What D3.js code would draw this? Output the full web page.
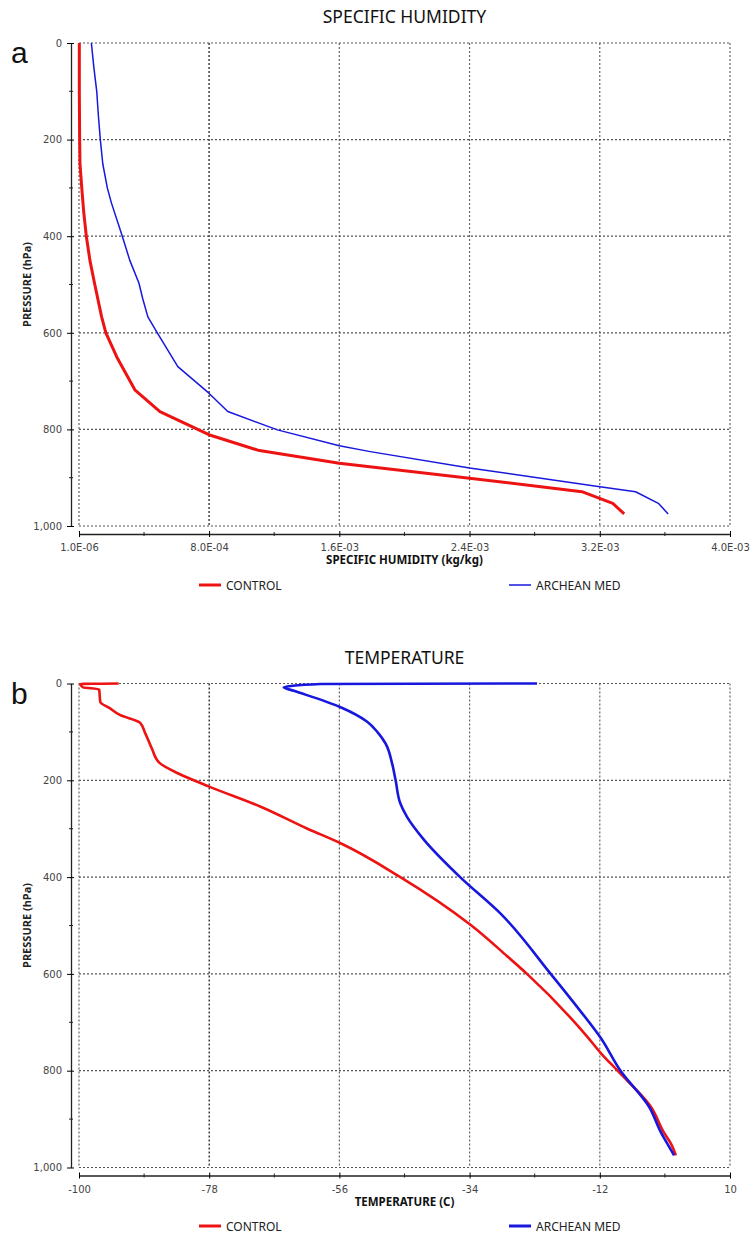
<!DOCTYPE html>
<html>
<head>
<meta charset="utf-8">
<script src="https://cdn.jsdelivr.net/npm/d3@7"></script>
<style>
  body { margin: 0; background: #fff; }
  svg { display: block; }
</style>
</head>
<body>
<div id="chart"></div>
<script>
// ---- data: panel a (specific humidity, kg/kg vs pressure hPa) ----
const humControlP = [0, 100, 200, 250, 300, 350, 400, 450, 500, 567, 600, 650, 718, 763, 811, 843, 870, 901, 929, 953, 975];
const humControlQ = [3e-6, 3e-6, 5e-6, 7e-6, 1.8e-5, 3.0e-5, 4.6e-5, 6.8e-5, 9.8e-5, 1.4e-4, 1.66e-4, 2.33e-4, 3.44e-4, 4.98e-4, 7.99e-4, 1.10e-3, 1.60e-3, 2.40e-3, 3.09e-3, 3.28e-3, 3.35e-3];

const humArcheanP = [0, 50, 100, 150, 200, 250, 300, 331, 400, 450, 497, 530, 567, 600, 670, 725, 763, 801, 834, 846, 880, 918, 929, 953, 975];
const humArcheanQ = [7.7e-5, 9.2e-5, 1.1e-4, 1.2e-4, 1.32e-4, 1.47e-4, 1.75e-4, 2.0e-4, 2.67e-4, 3.13e-4, 3.69e-4, 3.93e-4, 4.24e-4, 4.82e-4, 6.08e-4, 7.99e-4, 9.15e-4, 1.22e-3, 1.60e-3, 1.79e-3, 2.40e-3, 3.19e-3, 3.42e-3, 3.56e-3, 3.62e-3];

const humTicks = [1e-6, 8e-4, 1.6e-3, 2.4e-3, 3.2e-3, 4e-3];
const humTickLabels = ['1.0E-06', '8.0E-04', '1.6E-03', '2.4E-03', '3.2E-03', '4.0E-03'];

// ---- data: panel b (temperature, C vs pressure hPa) ----
const tempControlP = [0, 1, 5, 8, 12, 38, 51, 65, 81, 103, 134, 164, 186, 213, 254, 300, 330, 400, 499, 564, 600, 730, 764, 800, 874, 929, 950, 975];
const tempControlT = [-93.3, -99.8, -99.6, -99.3, -96.6, -96.4, -94.8, -93.1, -89.7, -88.8, -87.7, -86.4, -83.2, -78, -69.4, -61.4, -55.8, -45.7, -33.8, -27.6, -24.3, -14.1, -11.8, -9.0, -3.4, -1.1, 0.0, 0.85];

const tempArcheanP = [0, 1, 8, 15, 49, 79, 100, 124, 165, 200, 248, 275, 323, 400, 475, 600, 661, 733, 800, 874, 929, 957, 975];
const tempArcheanT = [-22.6, -59.2, -65.4, -63.7, -55.8, -51.3, -49.6, -48.2, -47.1, -46.5, -45.7, -44.6, -41.7, -35.6, -28.8, -20.3, -16.3, -11.8, -8.5, -3.7, -1.6, -0.3, 0.55];

const tempTicks = [-100, -78, -56, -34, -12, 10];
const tempTickLabels = ['-100', '-78', '-56', '-34', '-12', '10'];

const pressureTicks = [0, 200, 400, 600, 800, 1000];
const seriesNames = ['CONTROL', 'ARCHEAN MED'];

// ---- layout ----
const width = 751;
const height = 1236;
const left = 79;
const right = 730;
const red = '#ee1313';
const blue = '#1717dd';
const font = '"DejaVu Sans", sans-serif';

const svg = d3.select('#chart')
  .append('svg')
  .attr('width', width)
  .attr('height', height);

function drawPanel(cfg) {
  const g = svg.append('g');
  const x = d3.scaleLinear().domain(cfg.domain).range([left, right]);
  const y = d3.scaleLinear().domain([0, 1000]).range([cfg.top, cfg.bottom]);

  // dotted grid incl. the frame
  g.selectAll('.vgrid')
    .data(cfg.ticks)
    .enter().append('line')
    .attr('x1', d => x(d)).attr('x2', d => x(d))
    .attr('y1', cfg.top).attr('y2', cfg.bottom)
    .attr('stroke', (d, i) => i === 1 ? '#111' : '#666')
    .attr('stroke-width', 1.2)
    .attr('stroke-dasharray', '2,2');
  g.selectAll('.hgrid')
    .data(pressureTicks)
    .enter().append('line')
    .attr('x1', left).attr('x2', right)
    .attr('y1', d => y(d)).attr('y2', d => y(d))
    .attr('stroke', '#555')
    .attr('stroke-width', 1.2)
    .attr('stroke-dasharray', '2,2');

  // y axis, shifted left of the frame
  const yMinor = d3.range(100, 1000, 200);
  const yAxis = g.append('g')
    .attr('transform', `translate(${left - 8},0)`)
    .call(d3.axisLeft(y).tickValues(pressureTicks).tickSize(4).tickPadding(5).tickSizeOuter(0));
  yAxis.selectAll('.tick line').attr('x1', 3).attr('x2', -4);
  yAxis.selectAll('.tick text').attr('font-size', 10).attr('font-family', font).attr('fill', '#444');
  yAxis.select('.domain').attr('stroke', '#222').attr('stroke-width', 1.3);
  yAxis.selectAll('.minor')
    .data(yMinor)
    .enter().append('line')
    .attr('x1', -2).attr('x2', 2)
    .attr('y1', d => y(d)).attr('y2', d => y(d))
    .attr('stroke', '#222');

  // x axis, shifted below the frame
  const xMinor = cfg.ticks.slice(1).map((d, i) => (d + cfg.ticks[i]) / 2);
  const xAxis = g.append('g')
    .attr('transform', `translate(0,${cfg.bottom + 8})`)
    .call(d3.axisBottom(x).tickValues(cfg.ticks).tickFormat((d, i) => cfg.labels[i])
      .tickSize(3).tickPadding(7).tickSizeOuter(0));
  xAxis.selectAll('.tick line').attr('y1', -3).attr('y2', 3);
  xAxis.selectAll('.tick text').attr('font-size', 10).attr('font-family', font).attr('fill', '#444');
  xAxis.select('.domain').attr('stroke', '#222').attr('stroke-width', 1.3);
  xAxis.selectAll('.minor')
    .data(xMinor)
    .enter().append('line')
    .attr('x1', d => x(d)).attr('x2', d => x(d))
    .attr('y1', -2).attr('y2', 2)
    .attr('stroke', '#222');

  // titles
  svg.append('text')
    .attr('x', (left + right) / 2).attr('y', cfg.top - 20)
    .attr('text-anchor', 'middle')
    .attr('font-family', '"Noto Sans", sans-serif')
    .attr('font-size', 17.5)
    .attr('fill', '#111')
    .text(cfg.title);
  svg.append('text')
    .attr('x', 11).attr('y', cfg.top + 20)
    .attr('font-family', '"Liberation Sans", Arial, sans-serif')
    .attr('font-size', 30)
    .attr('fill', '#111')
    .text(cfg.letter);
  svg.append('text')
    .attr('x', (left + right) / 2).attr('y', cfg.bottom + 38)
    .attr('text-anchor', 'middle')
    .attr('font-family', '"Noto Sans", sans-serif')
    .attr('font-weight', 'bold')
    .attr('font-size', 11.5)
    .attr('fill', '#111')
    .text(cfg.xTitle);
  svg.append('text')
    .attr('transform', `translate(31,${(cfg.top + cfg.bottom) / 2}) rotate(-90)`)
    .attr('text-anchor', 'middle')
    .attr('font-family', '"Noto Sans", sans-serif')
    .attr('font-weight', 'bold')
    .attr('font-size', 11)
    .attr('fill', '#222')
    .text('PRESSURE (hPa)');

  // profiles
  const line = d3.line()
    .curve(cfg.curve)
    .x(d => x(d[1]))
    .y(d => y(d[0]));
  cfg.series.forEach(s => {
    g.append('path')
      .datum(d3.zip(s.p, s.v))
      .attr('fill', 'none')
      .attr('stroke', s.color)
      .attr('stroke-width', s.width)
      .attr('stroke-linejoin', 'round')
      .attr('d', line);
  });

  // legend
  const legendX = [199, 509];
  const lg = svg.append('g').attr('transform', `translate(0,${cfg.legendY})`);
  cfg.series.forEach((s, i) => {
    lg.append('line')
      .attr('x1', legendX[i]).attr('x2', legendX[i] + 22)
      .attr('y1', 0).attr('y2', 0)
      .attr('stroke', s.color)
      .attr('stroke-width', s.legendWidth);
    lg.append('text')
      .attr('x', legendX[i] + 27).attr('y', 4.5)
      .attr('font-family', '"Noto Sans", sans-serif')
      .attr('font-size', 12)
      .attr('fill', '#222')
      .text(seriesNames[i]);
  });
}

drawPanel({
  top: 43, bottom: 526,
  domain: [1e-6, 4e-3],
  ticks: humTicks, labels: humTickLabels,
  title: 'SPECIFIC HUMIDITY', letter: 'a',
  xTitle: 'SPECIFIC HUMIDITY (kg/kg)',
  legendY: 585,
  curve: d3.curveLinear,
  series: [
    { p: humControlP, v: humControlQ, color: red, width: 3, legendWidth: 3 },
    { p: humArcheanP, v: humArcheanQ, color: blue, width: 1.5, legendWidth: 1.5 }
  ]
});

drawPanel({
  top: 683.5, bottom: 1167.5,
  domain: [-100, 10],
  ticks: tempTicks, labels: tempTickLabels,
  title: 'TEMPERATURE', letter: 'b',
  xTitle: 'TEMPERATURE (C)',
  legendY: 1226,
  curve: d3.curveMonotoneY,
  series: [
    { p: tempControlP, v: tempControlT, color: red, width: 2.6, legendWidth: 3 },
    { p: tempArcheanP, v: tempArcheanT, color: blue, width: 2.6, legendWidth: 3 }
  ]
});
</script>
</body>
</html>
